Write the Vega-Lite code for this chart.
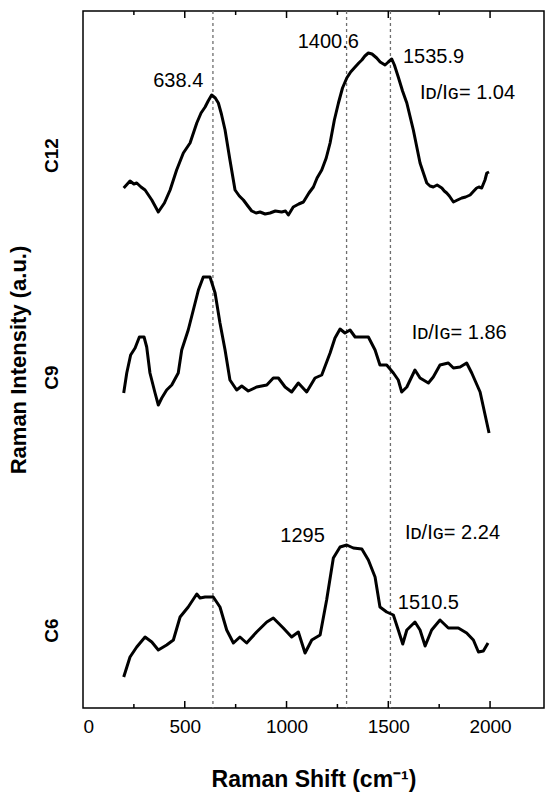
{
  "$schema": "https://vega.github.io/schema/vega-lite/v6.json",
  "width": 461,
  "height": 697,
  "autosize": {"type": "none"},
  "padding": {"left": 83, "top": 11, "right": 6, "bottom": 92},
  "config": {
    "font": "Liberation Sans",
    "view": {"stroke": "black", "strokeWidth": 1.5},
    "axis": {"grid": false, "domain": false, "labelColor": "black", "titleColor": "black", "tickColor": "black", "tickWidth": 1.5, "zindex": 1}
  },
  "resolve": {"axis": {"x": "independent", "y": "independent"}},
  "datasets": {
    "spectra": [
      {"shift": 200, "intensity": 520, "sample": "C12"},
      {"shift": 231, "intensity": 527, "sample": "C12"},
      {"shift": 250, "intensity": 524, "sample": "C12"},
      {"shift": 264, "intensity": 525, "sample": "C12"},
      {"shift": 285, "intensity": 521, "sample": "C12"},
      {"shift": 305, "intensity": 518, "sample": "C12"},
      {"shift": 338, "intensity": 508, "sample": "C12"},
      {"shift": 370, "intensity": 496, "sample": "C12"},
      {"shift": 400, "intensity": 505, "sample": "C12"},
      {"shift": 428, "intensity": 518, "sample": "C12"},
      {"shift": 460, "intensity": 538, "sample": "C12"},
      {"shift": 493, "intensity": 555, "sample": "C12"},
      {"shift": 526, "intensity": 565, "sample": "C12"},
      {"shift": 559, "intensity": 585, "sample": "C12"},
      {"shift": 580, "intensity": 595, "sample": "C12"},
      {"shift": 600, "intensity": 601, "sample": "C12"},
      {"shift": 615, "intensity": 607, "sample": "C12"},
      {"shift": 632, "intensity": 613, "sample": "C12"},
      {"shift": 650, "intensity": 610, "sample": "C12"},
      {"shift": 665, "intensity": 605, "sample": "C12"},
      {"shift": 680, "intensity": 594, "sample": "C12"},
      {"shift": 698, "intensity": 578, "sample": "C12"},
      {"shift": 722, "intensity": 548, "sample": "C12"},
      {"shift": 747, "intensity": 518, "sample": "C12"},
      {"shift": 768, "intensity": 512, "sample": "C12"},
      {"shift": 788, "intensity": 508, "sample": "C12"},
      {"shift": 810, "intensity": 502, "sample": "C12"},
      {"shift": 829, "intensity": 497, "sample": "C12"},
      {"shift": 850, "intensity": 495, "sample": "C12"},
      {"shift": 870, "intensity": 496, "sample": "C12"},
      {"shift": 895, "intensity": 494, "sample": "C12"},
      {"shift": 919, "intensity": 495, "sample": "C12"},
      {"shift": 945, "intensity": 497, "sample": "C12"},
      {"shift": 976, "intensity": 496, "sample": "C12"},
      {"shift": 995, "intensity": 497, "sample": "C12"},
      {"shift": 1009, "intensity": 493, "sample": "C12"},
      {"shift": 1033, "intensity": 501, "sample": "C12"},
      {"shift": 1060, "intensity": 504, "sample": "C12"},
      {"shift": 1083, "intensity": 506, "sample": "C12"},
      {"shift": 1110, "intensity": 515, "sample": "C12"},
      {"shift": 1132, "intensity": 521, "sample": "C12"},
      {"shift": 1150, "intensity": 530, "sample": "C12"},
      {"shift": 1173, "intensity": 538, "sample": "C12"},
      {"shift": 1195, "intensity": 550, "sample": "C12"},
      {"shift": 1214, "intensity": 565, "sample": "C12"},
      {"shift": 1235, "intensity": 588, "sample": "C12"},
      {"shift": 1255, "intensity": 605, "sample": "C12"},
      {"shift": 1275, "intensity": 620, "sample": "C12"},
      {"shift": 1296, "intensity": 630, "sample": "C12"},
      {"shift": 1315, "intensity": 636, "sample": "C12"},
      {"shift": 1337, "intensity": 641, "sample": "C12"},
      {"shift": 1355, "intensity": 645, "sample": "C12"},
      {"shift": 1370, "intensity": 648, "sample": "C12"},
      {"shift": 1385, "intensity": 652, "sample": "C12"},
      {"shift": 1402, "intensity": 655, "sample": "C12"},
      {"shift": 1420, "intensity": 654, "sample": "C12"},
      {"shift": 1443, "intensity": 650, "sample": "C12"},
      {"shift": 1460, "intensity": 646, "sample": "C12"},
      {"shift": 1484, "intensity": 643, "sample": "C12"},
      {"shift": 1500, "intensity": 646, "sample": "C12"},
      {"shift": 1517, "intensity": 649, "sample": "C12"},
      {"shift": 1530, "intensity": 643, "sample": "C12"},
      {"shift": 1549, "intensity": 631, "sample": "C12"},
      {"shift": 1570, "intensity": 617, "sample": "C12"},
      {"shift": 1591, "intensity": 605, "sample": "C12"},
      {"shift": 1623, "intensity": 578, "sample": "C12"},
      {"shift": 1656, "intensity": 545, "sample": "C12"},
      {"shift": 1689, "intensity": 525, "sample": "C12"},
      {"shift": 1705, "intensity": 522, "sample": "C12"},
      {"shift": 1721, "intensity": 521, "sample": "C12"},
      {"shift": 1740, "intensity": 523, "sample": "C12"},
      {"shift": 1763, "intensity": 520, "sample": "C12"},
      {"shift": 1775, "intensity": 517, "sample": "C12"},
      {"shift": 1787, "intensity": 515, "sample": "C12"},
      {"shift": 1800, "intensity": 512, "sample": "C12"},
      {"shift": 1820, "intensity": 506, "sample": "C12"},
      {"shift": 1840, "intensity": 508, "sample": "C12"},
      {"shift": 1861, "intensity": 510, "sample": "C12"},
      {"shift": 1880, "intensity": 511, "sample": "C12"},
      {"shift": 1902, "intensity": 513, "sample": "C12"},
      {"shift": 1920, "intensity": 517, "sample": "C12"},
      {"shift": 1934, "intensity": 520, "sample": "C12"},
      {"shift": 1945, "intensity": 521, "sample": "C12"},
      {"shift": 1959, "intensity": 520, "sample": "C12"},
      {"shift": 1975, "intensity": 528, "sample": "C12"},
      {"shift": 1984, "intensity": 535, "sample": "C12"},
      {"shift": 1995, "intensity": 536, "sample": "C12"},

      {"shift": 200, "intensity": 315, "sample": "C9"},
      {"shift": 215, "intensity": 335, "sample": "C9"},
      {"shift": 234, "intensity": 353, "sample": "C9"},
      {"shift": 256, "intensity": 360, "sample": "C9"},
      {"shift": 277, "intensity": 371, "sample": "C9"},
      {"shift": 300, "intensity": 371, "sample": "C9"},
      {"shift": 313, "intensity": 361, "sample": "C9"},
      {"shift": 329, "intensity": 335, "sample": "C9"},
      {"shift": 354, "intensity": 315, "sample": "C9"},
      {"shift": 370, "intensity": 303, "sample": "C9"},
      {"shift": 387, "intensity": 310, "sample": "C9"},
      {"shift": 411, "intensity": 318, "sample": "C9"},
      {"shift": 436, "intensity": 323, "sample": "C9"},
      {"shift": 468, "intensity": 335, "sample": "C9"},
      {"shift": 485, "intensity": 358, "sample": "C9"},
      {"shift": 517, "intensity": 378, "sample": "C9"},
      {"shift": 542, "intensity": 398, "sample": "C9"},
      {"shift": 567, "intensity": 418, "sample": "C9"},
      {"shift": 591, "intensity": 431, "sample": "C9"},
      {"shift": 624, "intensity": 431, "sample": "C9"},
      {"shift": 649, "intensity": 415, "sample": "C9"},
      {"shift": 673, "intensity": 385, "sample": "C9"},
      {"shift": 698, "intensity": 358, "sample": "C9"},
      {"shift": 722, "intensity": 328, "sample": "C9"},
      {"shift": 755, "intensity": 318, "sample": "C9"},
      {"shift": 780, "intensity": 322, "sample": "C9"},
      {"shift": 812, "intensity": 317, "sample": "C9"},
      {"shift": 853, "intensity": 321, "sample": "C9"},
      {"shift": 903, "intensity": 323, "sample": "C9"},
      {"shift": 935, "intensity": 330, "sample": "C9"},
      {"shift": 960, "intensity": 330, "sample": "C9"},
      {"shift": 993, "intensity": 321, "sample": "C9"},
      {"shift": 1025, "intensity": 316, "sample": "C9"},
      {"shift": 1058, "intensity": 325, "sample": "C9"},
      {"shift": 1099, "intensity": 316, "sample": "C9"},
      {"shift": 1140, "intensity": 330, "sample": "C9"},
      {"shift": 1173, "intensity": 333, "sample": "C9"},
      {"shift": 1214, "intensity": 355, "sample": "C9"},
      {"shift": 1238, "intensity": 370, "sample": "C9"},
      {"shift": 1263, "intensity": 379, "sample": "C9"},
      {"shift": 1287, "intensity": 375, "sample": "C9"},
      {"shift": 1312, "intensity": 378, "sample": "C9"},
      {"shift": 1337, "intensity": 371, "sample": "C9"},
      {"shift": 1370, "intensity": 371, "sample": "C9"},
      {"shift": 1402, "intensity": 371, "sample": "C9"},
      {"shift": 1435, "intensity": 358, "sample": "C9"},
      {"shift": 1459, "intensity": 343, "sample": "C9"},
      {"shift": 1492, "intensity": 343, "sample": "C9"},
      {"shift": 1525, "intensity": 335, "sample": "C9"},
      {"shift": 1549, "intensity": 328, "sample": "C9"},
      {"shift": 1566, "intensity": 316, "sample": "C9"},
      {"shift": 1591, "intensity": 321, "sample": "C9"},
      {"shift": 1631, "intensity": 338, "sample": "C9"},
      {"shift": 1656, "intensity": 330, "sample": "C9"},
      {"shift": 1697, "intensity": 325, "sample": "C9"},
      {"shift": 1721, "intensity": 331, "sample": "C9"},
      {"shift": 1754, "intensity": 343, "sample": "C9"},
      {"shift": 1795, "intensity": 345, "sample": "C9"},
      {"shift": 1820, "intensity": 340, "sample": "C9"},
      {"shift": 1853, "intensity": 341, "sample": "C9"},
      {"shift": 1885, "intensity": 345, "sample": "C9"},
      {"shift": 1910, "intensity": 335, "sample": "C9"},
      {"shift": 1951, "intensity": 316, "sample": "C9"},
      {"shift": 1995, "intensity": 275, "sample": "C9"},

      {"shift": 200, "intensity": 31, "sample": "C6"},
      {"shift": 231, "intensity": 51, "sample": "C6"},
      {"shift": 264, "intensity": 61, "sample": "C6"},
      {"shift": 305, "intensity": 71, "sample": "C6"},
      {"shift": 338, "intensity": 66, "sample": "C6"},
      {"shift": 370, "intensity": 58, "sample": "C6"},
      {"shift": 411, "intensity": 63, "sample": "C6"},
      {"shift": 444, "intensity": 68, "sample": "C6"},
      {"shift": 477, "intensity": 91, "sample": "C6"},
      {"shift": 517, "intensity": 101, "sample": "C6"},
      {"shift": 559, "intensity": 114, "sample": "C6"},
      {"shift": 575, "intensity": 110, "sample": "C6"},
      {"shift": 600, "intensity": 111, "sample": "C6"},
      {"shift": 640, "intensity": 111, "sample": "C6"},
      {"shift": 673, "intensity": 101, "sample": "C6"},
      {"shift": 706, "intensity": 78, "sample": "C6"},
      {"shift": 739, "intensity": 65, "sample": "C6"},
      {"shift": 771, "intensity": 71, "sample": "C6"},
      {"shift": 804, "intensity": 65, "sample": "C6"},
      {"shift": 853, "intensity": 76, "sample": "C6"},
      {"shift": 903, "intensity": 86, "sample": "C6"},
      {"shift": 935, "intensity": 90, "sample": "C6"},
      {"shift": 984, "intensity": 80, "sample": "C6"},
      {"shift": 1025, "intensity": 71, "sample": "C6"},
      {"shift": 1058, "intensity": 76, "sample": "C6"},
      {"shift": 1091, "intensity": 55, "sample": "C6"},
      {"shift": 1124, "intensity": 68, "sample": "C6"},
      {"shift": 1165, "intensity": 73, "sample": "C6"},
      {"shift": 1197, "intensity": 108, "sample": "C6"},
      {"shift": 1230, "intensity": 150, "sample": "C6"},
      {"shift": 1263, "intensity": 161, "sample": "C6"},
      {"shift": 1296, "intensity": 163, "sample": "C6"},
      {"shift": 1328, "intensity": 160, "sample": "C6"},
      {"shift": 1370, "intensity": 159, "sample": "C6"},
      {"shift": 1402, "intensity": 148, "sample": "C6"},
      {"shift": 1435, "intensity": 131, "sample": "C6"},
      {"shift": 1459, "intensity": 101, "sample": "C6"},
      {"shift": 1492, "intensity": 96, "sample": "C6"},
      {"shift": 1525, "intensity": 93, "sample": "C6"},
      {"shift": 1549, "intensity": 78, "sample": "C6"},
      {"shift": 1571, "intensity": 64, "sample": "C6"},
      {"shift": 1591, "intensity": 78, "sample": "C6"},
      {"shift": 1631, "intensity": 86, "sample": "C6"},
      {"shift": 1656, "intensity": 78, "sample": "C6"},
      {"shift": 1681, "intensity": 62, "sample": "C6"},
      {"shift": 1713, "intensity": 78, "sample": "C6"},
      {"shift": 1754, "intensity": 88, "sample": "C6"},
      {"shift": 1795, "intensity": 80, "sample": "C6"},
      {"shift": 1844, "intensity": 80, "sample": "C6"},
      {"shift": 1885, "intensity": 75, "sample": "C6"},
      {"shift": 1918, "intensity": 68, "sample": "C6"},
      {"shift": 1943, "intensity": 56, "sample": "C6"},
      {"shift": 1967, "intensity": 57, "sample": "C6"},
      {"shift": 1990, "intensity": 65, "sample": "C6"}
    ],
    "peaks": [
      {"shift": 638.4},
      {"shift": 1295},
      {"shift": 1510.5}
    ],
    "ticks": [
      {"shift": 250, "kind": "minor"},
      {"shift": 500, "kind": "major"},
      {"shift": 750, "kind": "minor"},
      {"shift": 1000, "kind": "major"},
      {"shift": 1250, "kind": "minor"},
      {"shift": 1500, "kind": "major"},
      {"shift": 1750, "kind": "minor"},
      {"shift": 2000, "kind": "major"}
    ],
    "notes": [
      {"shift": 468, "intensity": 627, "text": "638.4", "anchor": "center"},
      {"shift": 1205, "intensity": 666, "text": "1400.6", "anchor": "center"},
      {"shift": 1722, "intensity": 651, "text": "1535.9", "anchor": "center"},
      {"shift": 1079, "intensity": 172, "text": "1295", "anchor": "center"},
      {"shift": 1697, "intensity": 105, "text": "1510.5", "anchor": "center"},
      {"shift": 1656, "intensity": 615, "text": "Iᴅ/Iɢ= 1.04", "anchor": "left"},
      {"shift": 1615, "intensity": 375, "text": "Iᴅ/Iɢ= 1.86", "anchor": "left"},
      {"shift": 1582, "intensity": 175, "text": "Iᴅ/Iɢ= 2.24", "anchor": "left"}
    ]
  },
  "layer": [
    {
      "data": {"name": "peaks"},
      "mark": {"type": "rule", "color": "#6e6e6e", "strokeWidth": 1.3, "strokeDash": [3, 3]},
      "encoding": {
        "x": {
          "field": "shift",
          "type": "quantitative",
          "scale": {"domain": [0, 2265], "nice": false, "zero": false},
          "axis": null
        }
      }
    },
    {
      "data": {"name": "ticks"},
      "transform": [{"filter": "datum.kind === 'major'"}],
      "mark": {"type": "rule", "color": "black", "strokeWidth": 1.5},
      "encoding": {
        "x": {"field": "shift", "type": "quantitative", "axis": null},
        "y": {"datum": 0, "type": "quantitative", "axis": null},
        "y2": {"datum": 7}
      }
    },
    {
      "data": {"name": "ticks"},
      "transform": [{"filter": "datum.kind === 'minor'"}],
      "mark": {"type": "rule", "color": "black", "strokeWidth": 1.5},
      "encoding": {
        "x": {"field": "shift", "type": "quantitative", "axis": null},
        "y": {"datum": 0, "type": "quantitative", "axis": null},
        "y2": {"datum": 4}
      }
    },
    {
      "data": {"name": "ticks"},
      "transform": [{"filter": "datum.kind === 'major'"}],
      "mark": {"type": "rule", "color": "black", "strokeWidth": 1.5},
      "encoding": {
        "x": {"field": "shift", "type": "quantitative", "axis": null},
        "y": {"datum": 697, "type": "quantitative", "axis": null},
        "y2": {"datum": 690}
      }
    },
    {
      "data": {"name": "ticks"},
      "transform": [{"filter": "datum.kind === 'minor'"}],
      "mark": {"type": "rule", "color": "black", "strokeWidth": 1.5},
      "encoding": {
        "x": {"field": "shift", "type": "quantitative", "axis": null},
        "y": {"datum": 697, "type": "quantitative", "axis": null},
        "y2": {"datum": 693}
      }
    },
    {
      "data": {"name": "spectra"},
      "mark": {"type": "line", "color": "black", "strokeWidth": 3, "strokeJoin": "round"},
      "encoding": {
        "x": {
          "field": "shift",
          "type": "quantitative",
          "axis": {
            "orient": "bottom",
            "title": "Raman Shift (cm⁻¹)",
            "titleFontSize": 23,
            "titleFontWeight": "bold",
            "titlePadding": 32,
            "values": [0, 500, 1000, 1500, 2000],
            "format": "d",
            "labelFontSize": 19,
            "labelPadding": 9,
            "ticks": true,
            "tickOpacity": 0,
            "offset": -6,
            "tickSize": 6
          }
        },
        "y": {
          "field": "intensity",
          "type": "quantitative",
          "scale": {"domain": [0, 697], "nice": false, "zero": false},
          "axis": {
            "title": "Raman Intensity (a.u.)",
            "titleFontSize": 22,
            "titleFontWeight": "bold",
            "titlePadding": 12,
            "values": [78, 331, 553],
            "labelExpr": "datum.value === 553 ? 'C12' : datum.value === 331 ? 'C9' : 'C6'",
            "labelAngle": -90,
            "labelAlign": "center",
            "labelBaseline": "bottom",
            "labelFontSize": 19,
            "labelFontWeight": "bold",
            "labelPadding": 22,
            "ticks": false
          }
        },
        "detail": {"field": "sample", "type": "nominal"}
      }
    },
    {
      "data": {"name": "notes"},
      "transform": [{"filter": "datum.anchor === 'center'"}],
      "mark": {"type": "text", "fontSize": 20, "align": "center", "baseline": "middle", "color": "black"},
      "encoding": {
        "x": {"field": "shift", "type": "quantitative", "axis": null},
        "y": {"field": "intensity", "type": "quantitative", "axis": null},
        "text": {"field": "text"}
      }
    },
    {
      "data": {"name": "notes"},
      "transform": [{"filter": "datum.anchor === 'left'"}],
      "mark": {"type": "text", "fontSize": 20, "align": "left", "baseline": "middle", "color": "black"},
      "encoding": {
        "x": {"field": "shift", "type": "quantitative", "axis": null},
        "y": {"field": "intensity", "type": "quantitative", "axis": null},
        "text": {"field": "text"}
      }
    }
  ]
}
